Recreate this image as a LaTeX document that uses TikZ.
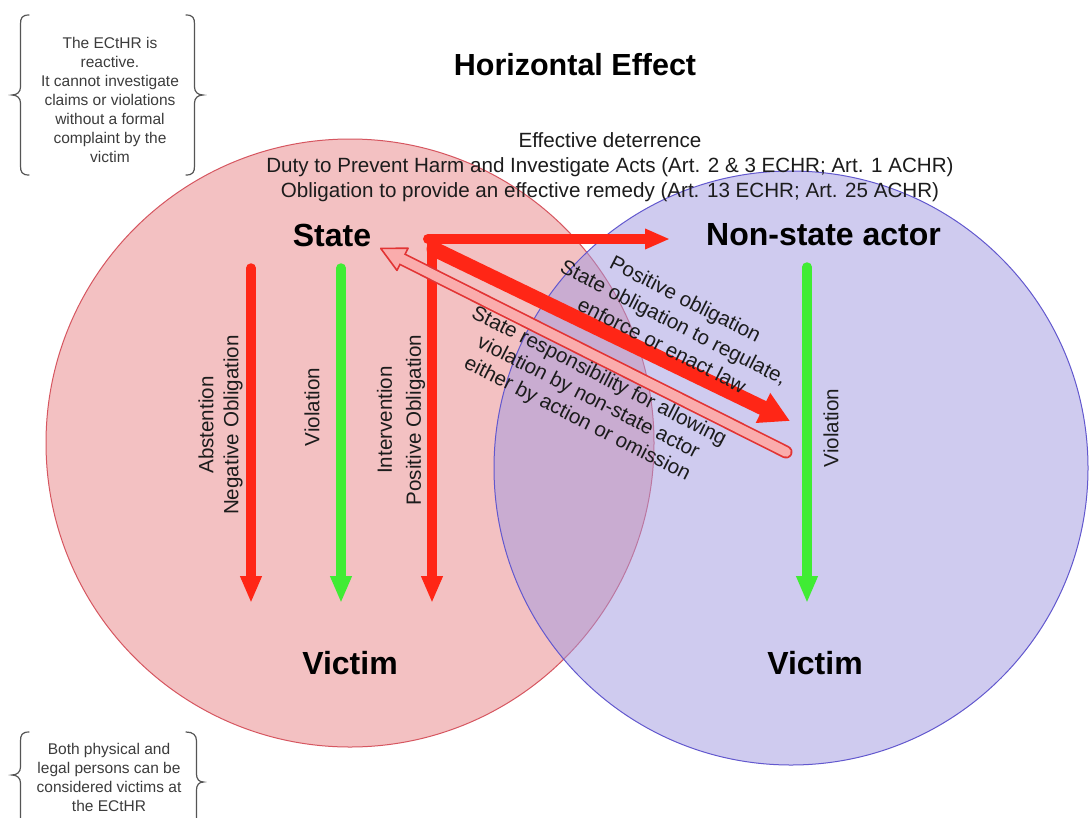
\documentclass[tikz,border=0pt]{standalone}
\usepackage{fontspec}
\setmainfont{Liberation Sans}
\usetikzlibrary{arrows.meta,calc}

\definecolor{redfill}{RGB}{243,193,194}
\definecolor{redline}{RGB}{214,86,96}
\definecolor{bluefill}{RGB}{161,153,225}
\definecolor{blueline}{RGB}{98,88,206}
\definecolor{arrowred}{RGB}{255,38,22}
\definecolor{arrowgreen}{RGB}{64,236,52}
\definecolor{hollowfill}{RGB}{250,172,172}
\definecolor{hollowline}{RGB}{226,52,52}
\definecolor{txt}{RGB}{28,28,28}
\definecolor{notetxt}{RGB}{60,60,60}
\definecolor{bracegray}{RGB}{85,85,85}

\begin{document}
\begin{tikzpicture}[x=1pt,y=-1pt,
  lbl/.style={font=\fontsize{20.6}{25}\selectfont, text=txt, align=center, inner sep=0pt},
  widelbl/.style={lbl, font=\fontsize{20.6}{29}\selectfont},
  diaglbl/.style={lbl, font=\fontsize{20.6}{26}\selectfont, rotate=-27},
  actor/.style={font=\bfseries\fontsize{32}{37}\selectfont, text=black, inner sep=0pt},
  heading/.style={font=\bfseries\fontsize{30.5}{35}\selectfont, text=black, inner sep=0pt},
  note/.style={font=\fontsize{15.5}{19}\selectfont, text=notetxt, align=center, inner sep=0pt},
  sphere/.style={circle, inner sep=0pt, line width=1pt},
  duty/.style={arrowred, line width=9.5pt, line cap=round, -{Triangle[length=27pt,width=20pt]}},
  harm/.style={arrowgreen, line width=9.5pt, line cap=round, -{Triangle[length=27pt,width=20pt]}},
  bracket/.style={bracegray, line width=1.2pt, line cap=round}
]
\clip (0,0) rectangle (1089,817);
\fill[white] (0,0) rectangle (1089,817);

% the two spheres
\node[sphere, minimum size=608pt, fill=redfill, draw=redline] (stateSphere) at (350,443) {};
\node[sphere, minimum size=594pt, fill=bluefill, fill opacity=0.5, draw=blueline, draw opacity=1] (privateSphere) at (791,468) {};

% headings and actors
\node[heading] (title) at (575,64.5) {Horizontal Effect};
\node[lbl] (duties) at (610,167) {Effective deterrence\\Duty to Prevent Harm and Investigate Acts (Art. 2 \& 3 ECHR; Art. 1 ACHR)\\Obligation to provide an effective remedy (Art. 13 ECHR; Art. 25 ACHR)};
\node[actor] (state) at (332,235) {State};
\node[actor] (nsa) at (823.5,235) {Non-state actor};
\node[actor] (victimL) at (350,663) {Victim};
\node[actor] (victimR) at (815,663) {Victim};

% arrow end points
\coordinate (absTop) at (251,268);   \coordinate (absEnd) at (251,603);
\coordinate (violTop) at (341,268);  \coordinate (violEnd) at (341,603);
\coordinate (intTop) at (432,240);   \coordinate (intEnd) at (432,603);
\coordinate (hStart) at (428,239);   \coordinate (hEnd) at (670,239);
\coordinate (dStart) at (434,249);   \coordinate (dEnd) at (790,421);
\coordinate (nTop) at (807,267);     \coordinate (nEnd) at (807,603);
\coordinate (backTail) at (786,452); \coordinate (backTip) at (380,248);

% state to victim
\draw[duty] (absTop) -- (absEnd);
\draw[harm] (violTop) -- (violEnd);
\draw[duty] (intTop) -- (intEnd);
% state towards the non-state actor
\draw[arrowred, line width=10pt, line cap=round, -{Triangle[length=25pt,width=19pt]}] (hStart) -- (hEnd);
\draw[arrowred, line width=15pt, line cap=round, -{Triangle[length=30pt,width=31pt]}] (dStart) -- (dEnd);
% non-state actor to victim
\draw[harm] (nTop) -- (nEnd);
% responsibility flowing back to the state (hollow arrow)
\draw[hollowline, line width=13pt, line cap=round,
  -{Triangle[length=27pt,width=27pt,line width=1.6pt,round,fill=hollowfill]}] (backTail) -- (backTip);
\draw[hollowfill, line width=9.6pt, line cap=round] (backTail) -- ($(backTip)!20pt!(backTail)$);

% arrow labels
\node[lbl, rotate=90] (absLbl) at (220.5,425) {Abstention\\Negative Obligation};
\node[lbl, rotate=90] (violLbl) at (312,407) {Violation};
\node[widelbl, rotate=90] (intLbl) at (401,420) {Intervention\\Positive Obligation};
\node[lbl, rotate=90] (violLblR) at (831,428) {Violation};
\node[diaglbl] (posObl) at (674,322) {Positive obligation\\State obligation to regulate,\\enforce or enact law};
\node[diaglbl, font=\fontsize{20.6}{24}\selectfont] (respLbl) at (588,398) {State responsibility for allowing\\violation by non-state actor\\either by action or omission};

% side notes with braces
\node[note] (reactive) at (110,100) {The ECtHR is\\reactive.\\It cannot investigate\\claims or violations\\without a formal\\complaint by the\\victim};
\draw[bracket] (29,15) .. controls (22,15) and (20.5,18) .. (20.5,24) -- (20.5,87)
  .. controls (20.5,92) and (17,95) .. (12,95) .. controls (17,95) and (20.5,98) .. (20.5,103)
  -- (20.5,166) .. controls (20.5,172) and (22,175) .. (29,175);
\draw[bracket] (186,15) .. controls (193,15) and (194.5,18) .. (194.5,24) -- (194.5,87)
  .. controls (194.5,92) and (198,95) .. (203,95) .. controls (198,95) and (194.5,98) .. (194.5,103)
  -- (194.5,166) .. controls (194.5,172) and (193,175) .. (186,175);

\node[note] (victims) at (109,777) {Both physical and\\legal persons can be\\considered victims at\\the ECtHR};
\draw[bracket] (29,732) .. controls (22,732) and (20.5,735) .. (20.5,741) -- (20.5,767)
  .. controls (20.5,772) and (17,775) .. (12,775) .. controls (17,775) and (20.5,778) .. (20.5,783)
  -- (20.5,830);
\draw[bracket] (186,732) .. controls (193,732) and (196.5,735) .. (196.5,741) -- (196.5,774)
  .. controls (196.5,779) and (199,782) .. (203.5,782) .. controls (199,782) and (196.5,785) .. (196.5,790)
  -- (196.5,830);
\end{tikzpicture}
\end{document}
